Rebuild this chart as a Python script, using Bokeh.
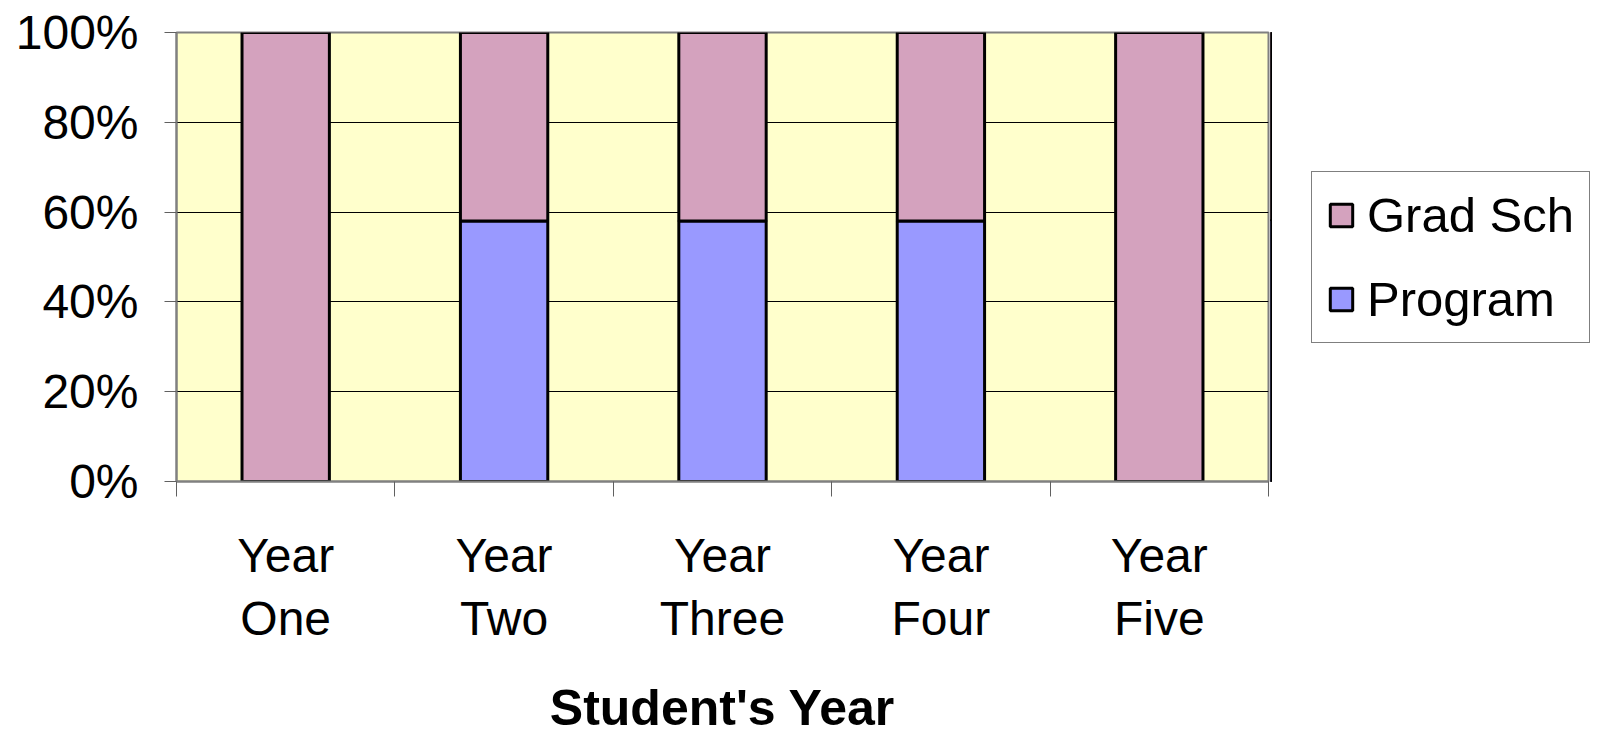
from bokeh.plotting import figure
from bokeh.layouts import row
from bokeh.models import FixedTicker, Legend, LegendItem, ColumnDataSource, Range1d
from bokeh.embed import file_html
from bokeh.resources import INLINE

years = ["Year\nOne", "Year\nTwo", "Year\nThree", "Year\nFour", "Year\nFive"]
program = [0, 58, 58, 58, 0]
grad_sch = [100, 42, 42, 42, 100]
y_ticks = [0, 20, 40, 60, 80, 100]
y_labels = ["0%", "20%", "40%", "60%", "80%", "100%"]
series_names = ["Grad Sch", "Program"]

FONT = "Liberation Sans"
PINK = "#D4A2BE"
BLUE = "#9999FF"

xs = [i + 0.5 for i in range(len(years))]
src = ColumnDataSource(dict(
    x=xs,
    prog_top=program,
    grad_bottom=program,
    grad_top=[a + b for a, b in zip(program, grad_sch)],
))

p = figure(width=1270, height=739, x_range=Range1d(0, len(years)), y_range=Range1d(0, 100),
           output_backend="svg", toolbar_location=None,
           min_border_left=176, min_border_right=2, min_border_top=32, min_border_bottom=256)
p.background_fill_color = "#FFFFCC"
p.border_fill_color = "white"
p.outline_line_color = "#808080"
p.outline_line_width = 2

r_prog = p.vbar(x="x", bottom=0, top="prog_top", width=0.4, source=src,
                fill_color=BLUE, line_color="black", line_width=3)
r_grad = p.vbar(x="x", bottom="grad_bottom", top="grad_top", width=0.4, source=src,
                fill_color=PINK, line_color="black", line_width=3)

p.xgrid.grid_line_color = None
p.ygrid.grid_line_color = "black"
p.ygrid.grid_line_width = 1
p.ygrid.level = "underlay"

# y axis
p.yaxis.ticker = FixedTicker(ticks=y_ticks)
p.yaxis.major_label_overrides = {t: l for t, l in zip(y_ticks, y_labels)}
p.yaxis.major_label_text_font = FONT
p.yaxis.major_label_text_font_size = "48px"
p.yaxis.major_label_text_color = "black"
p.yaxis.major_label_standoff = 26
p.yaxis.axis_line_color = "#808080"
p.yaxis.axis_line_width = 2
p.yaxis.major_tick_out = 12
p.yaxis.major_tick_in = 0
p.yaxis.major_tick_line_color = "#606060"
p.yaxis.minor_tick_line_color = None

# x axis
p.xaxis.ticker = FixedTicker(ticks=xs, minor_ticks=list(range(len(years) + 1)))
p.xaxis.major_label_overrides = {x: l for x, l in zip(xs, years)}
p.xaxis.major_label_text_font = FONT
p.xaxis.major_label_text_font_size = "48px"
p.xaxis.major_label_text_color = "black"
p.xaxis.major_label_standoff = 32
p.xaxis.major_tick_line_color = None
p.xaxis.minor_tick_line_color = "#606060"
p.xaxis.minor_tick_out = 15
p.xaxis.minor_tick_in = 0
p.xaxis.axis_line_color = "#808080"
p.xaxis.axis_line_width = 2
p.xaxis.axis_label = "Student's Year"
p.xaxis.axis_label_text_font = FONT
p.xaxis.axis_label_text_font_size = "50px"
p.xaxis.axis_label_text_font_style = "bold"
p.xaxis.axis_label_text_color = "black"
p.xaxis.axis_label_standoff = 32

# legend panel: separate figure to the right (frames are aligned by the row layout).
# Its x range lies away from the data, so its bars are not visible; they only feed the legend.
lp = figure(width=336, height=739, x_range=Range1d(100, 101), y_range=Range1d(0, 100),
            output_backend="svg", toolbar_location=None,
            min_border_left=0, min_border_right=0, min_border_top=0, min_border_bottom=0)
lp.axis.visible = False
lp.grid.grid_line_color = None
lp.outline_line_color = None
lp.background_fill_color = "white"
lg_grad = lp.vbar(x="x", bottom="grad_bottom", top="grad_top", width=0.4, source=src,
                  fill_color=PINK, line_color="black", line_width=3)
lg_prog = lp.vbar(x="x", bottom=0, top="prog_top", width=0.4, source=src,
                  fill_color=BLUE, line_color="black", line_width=3)

legend = Legend(items=[LegendItem(label=series_names[0], renderers=[lg_grad]),
                       LegendItem(label=series_names[1], renderers=[lg_prog])],
                location=(41, 138))
legend.label_text_font = FONT
legend.label_text_font_size = "49px"
legend.label_text_color = "black"
legend.glyph_width = 28
legend.glyph_height = 28
legend.spacing = 28
legend.padding = 15
legend.margin = 0
legend.label_standoff = 12
legend.border_line_color = "black"
legend.border_line_width = 1
legend.background_fill_color = "white"
legend.background_fill_alpha = 1
lp.add_layout(legend)

layout = row(p, lp)
open("out.html", "w").write(file_html(layout, INLINE))
